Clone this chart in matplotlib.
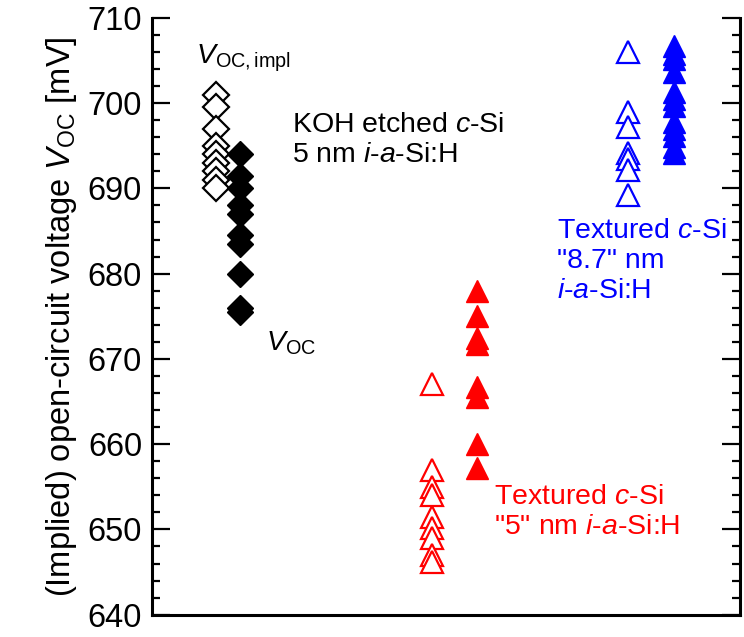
import numpy as np
import matplotlib.pyplot as plt
from matplotlib.ticker import MultipleLocator

plt.rcParams['font.family'] = 'Liberation Sans'
plt.rcParams['mathtext.fontset'] = 'custom'
plt.rcParams['mathtext.rm'] = 'Liberation Sans'
plt.rcParams['mathtext.it'] = 'Liberation Sans:italic'

# KOH etched c-Si, 5 nm i-a-Si:H
koh_impl = [701, 699.5, 697, 695, 694, 693, 692, 691, 690]
koh_voc = [694, 691.5, 690, 688, 687, 684.5, 683.5, 680, 676, 675.5]
# Textured c-Si, "5" nm i-a-Si:H
tex5_impl = [667, 657, 655, 654, 651.5, 650.2, 649, 647, 646.2]
tex5_voc = [678, 675, 672.5, 671.8, 666.7, 665.5, 660, 657.2]
# Textured c-Si, "8.7" nm i-a-Si:H
tex87_impl = [706, 699, 697.2, 694.1, 693.5, 692.1, 689.2]
tex87_voc = [706.7, 705.8, 705.2, 703.7, 701.3, 700.5, 699.7, 697.8, 697, 696.2, 694.8, 694.1]

# horizontal group positions
xpos = [1.1, 1.5, 4.76, 5.53, 8.1, 8.88]

fig = plt.figure(figsize=(7.44, 6.37), dpi=100)
ax = fig.add_axes([0.204, 0.035, 0.79, 0.937])

ax.plot([xpos[0]] * len(koh_impl), koh_impl, 'D', ms=13, mfc='white', mec='black', mew=1.6, ls='none')
ax.plot([xpos[1]] * len(koh_voc), koh_voc, 'D', ms=13, mfc='black', mec='black', mew=1.0, ls='none')
ax.plot([xpos[2]] * len(tex5_impl), tex5_impl, '^', ms=16, mfc='white', mec='red', mew=1.6, ls='none')
ax.plot([xpos[3]] * len(tex5_voc), tex5_voc, '^', ms=16, mfc='red', mec='red', mew=1.0, ls='none')
ax.plot([xpos[4]] * len(tex87_impl), tex87_impl, '^', ms=16, mfc='white', mec='blue', mew=1.6, ls='none')
ax.plot([xpos[5]] * len(tex87_voc), tex87_voc, '^', ms=16, mfc='blue', mec='blue', mew=1.0, ls='none')

ax.set_xlim(0, 10)
ax.set_ylim(640, 710)
ax.yaxis.set_major_locator(MultipleLocator(10))
ax.yaxis.set_minor_locator(MultipleLocator(2))
ax.set_xticks([])
ax.tick_params(axis='y', which='both', direction='in', right=True, labelsize=23.5, width=1.6, pad=7)
ax.tick_params(axis='y', which='major', length=13)
ax.tick_params(axis='y', which='minor', length=6)
ax.spines['top'].set_visible(False)
for s in ['left', 'right', 'bottom']:
    ax.spines[s].set_linewidth(2.2)

ax.set_ylabel('(Implied) open-circuit voltage $V_{\\rm OC}$ [mV]', fontsize=23.5, labelpad=6)

ax.text(0.75, 704.6, '$V_{\\rm OC,impl}$', fontsize=20.5, color='black')
ax.text(2.38, 695.7, 'KOH etched $c$-Si\n5 nm $i$-$a$-Si:H', fontsize=20.5, color='black',
        va='center', linespacing=1.2)
ax.text(1.95, 671.0, '$V_{\\rm OC}$', fontsize=20.5, color='black')
ax.text(5.82, 652.0, 'Textured $c$-Si\n"5" nm $i$-$a$-Si:H', fontsize=20.5, color='red',
        va='center', linespacing=1.2)
ax.text(6.9, 681.5, 'Textured $c$-Si\n"8.7" nm\n$i$-$a$-Si:H', fontsize=20.5, color='blue',
        va='center', linespacing=1.2)

plt.savefig('out.png', dpi=100)
